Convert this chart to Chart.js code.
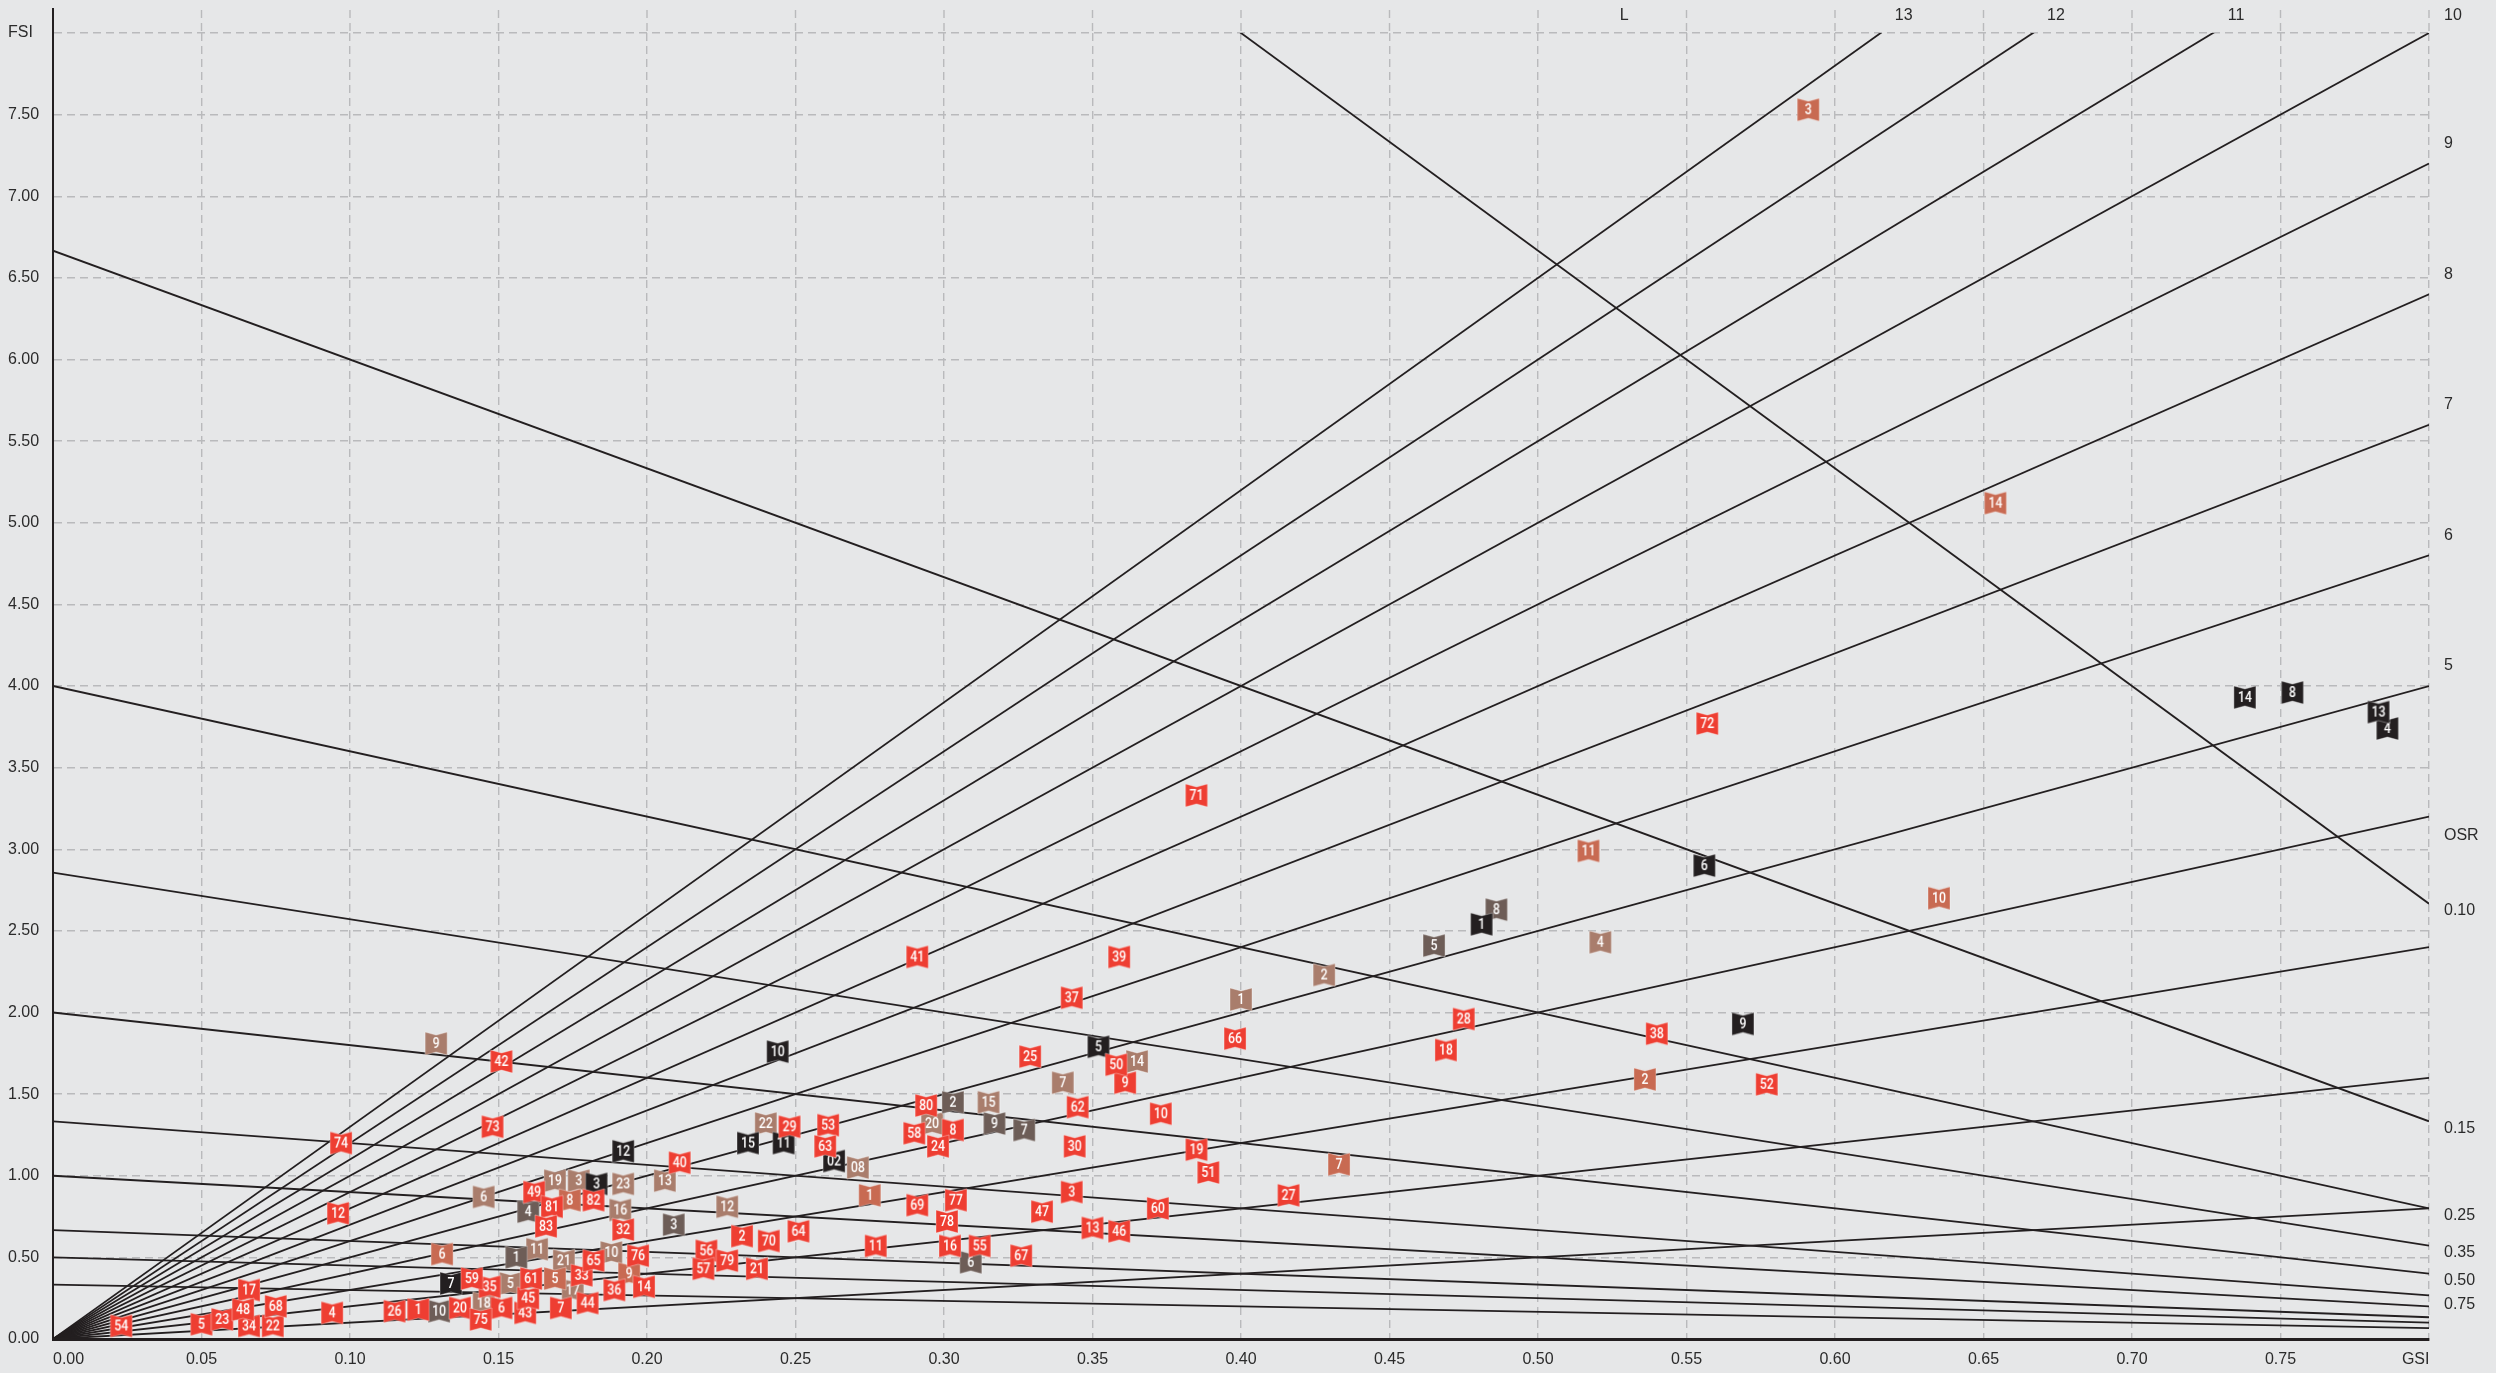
<!DOCTYPE html>
<html>
<head>
<meta charset="utf-8">
<title>Spacematrix GSI / FSI</title>
<script src="https://cdn.jsdelivr.net/npm/chart.js@4.4.1/dist/chart.umd.min.js"></script>
<style>
  html, body { margin: 0; padding: 0; background: #e6e7e8; }
  #wrap { width: 2496px; height: 1373px; position: relative; }
</style>
</head>
<body>
<div id="wrap"><canvas id="spacematrix"></canvas></div>
<script>
// axis ticks
const gsiTicks = [0, 0.05, 0.1, 0.15, 0.2, 0.25, 0.3, 0.35, 0.4, 0.45, 0.5, 0.55, 0.6, 0.65, 0.7, 0.75, 0.8];
const fsiTicks = [0, 0.5, 1, 1.5, 2, 2.5, 3, 3.5, 4, 4.5, 5, 5.5, 6, 6.5, 7, 7.5, 8];
const gsiMax = 0.8;
const fsiMax = 8;

// layers (L = FSI / GSI) rays from the origin
const layerValues = [1, 2, 3, 4, 5, 6, 7, 8, 9, 10, 11, 12, 13];
const layerLabelled = [5, 6, 7, 8, 9, 10, 11, 12, 13];

// open space ratio lines, OSR = (1 - GSI) / FSI
const osrValues = [0.075, 0.15, 0.25, 0.35, 0.5, 0.75, 1, 1.5, 2, 3];
const osrLabels = ['0.10', '0.15', '0.25', '0.35', '0.50', '0.75', '', '', '', ''];

// samples, red
const redIds = ['1', '2', '3', '4', '5', '6', '7', '8', '9', '10', '11', '12', '13', '14', '16', '17', '18', '19', '20',
  '21', '22', '23', '24', '25', '26', '27', '28', '29', '30', '32', '33', '34', '35', '36', '37', '38', '39', '40',
  '41', '42', '43', '44', '45', '46', '47', '48', '49', '50', '51', '52', '53', '54', '55', '56', '57', '58', '59',
  '60', '61', '62', '63', '64', '65', '66', '67', '68', '69', '70', '71', '72', '73', '74', '75', '76', '77', '78',
  '79', '80', '81', '82', '83'];
const redGsi = [0.123, 0.232, 0.343, 0.094, 0.050, 0.151, 0.171, 0.303, 0.361, 0.373, 0.277, 0.096, 0.350, 0.199, 0.302, 0.066, 0.469, 0.385, 0.137,
  0.237, 0.074, 0.057, 0.298, 0.329, 0.115, 0.416, 0.475, 0.248, 0.344, 0.192, 0.178, 0.066, 0.147, 0.189, 0.343, 0.540, 0.359, 0.211,
  0.291, 0.151, 0.159, 0.180, 0.160, 0.359, 0.333, 0.064, 0.162, 0.358, 0.389, 0.577, 0.261, 0.023, 0.312, 0.220, 0.219, 0.290, 0.141,
  0.372, 0.161, 0.345, 0.260, 0.251, 0.182, 0.398, 0.326, 0.075, 0.291, 0.241, 0.385, 0.557, 0.148, 0.097, 0.144, 0.197, 0.304, 0.301,
  0.227, 0.294, 0.168, 0.182, 0.166];
const redFsi = [0.18, 0.63, 0.90, 0.16, 0.09, 0.19, 0.19, 1.28, 1.57, 1.38, 0.57, 0.77, 0.68, 0.32, 0.57, 0.30, 1.77, 1.16, 0.19,
  0.43, 0.08, 0.12, 1.18, 1.73, 0.17, 0.88, 1.96, 1.30, 1.18, 0.67, 0.39, 0.08, 0.32, 0.30, 2.09, 1.87, 2.34, 1.08,
  2.34, 1.70, 0.16, 0.22, 0.25, 0.66, 0.78, 0.18, 0.90, 1.68, 1.02, 1.56, 1.31, 0.08, 0.57, 0.54, 0.43, 1.26, 0.37,
  0.80, 0.37, 1.42, 1.18, 0.66, 0.48, 1.84, 0.51, 0.20, 0.82, 0.60, 3.33, 3.77, 1.30, 1.20, 0.12, 0.51, 0.85, 0.72,
  0.48, 1.43, 0.81, 0.85, 0.69];

// samples, terracotta
const orangeIds = ['1', '2', '3', '5', '6', '7', '8', '9', '10', '11', '14'];
const orangeGsi = [0.275, 0.536, 0.591, 0.169, 0.131, 0.433, 0.174, 0.194, 0.635, 0.517, 0.654];
const orangeFsi = [0.88, 1.59, 7.53, 0.37, 0.52, 1.07, 0.85, 0.40, 2.70, 2.99, 5.12];

// samples, tan
const tanIds = ['1', '2', '3', '4', '5', '6', '7', '08', '9', '10', '11', '12', '13', '14', '15', '16', '17', '18', '19', '20', '21', '22', '23'];
const tanGsi = [0.400, 0.428, 0.177, 0.521, 0.154, 0.145, 0.340, 0.271, 0.129, 0.188, 0.163, 0.227, 0.206, 0.365, 0.315, 0.191, 0.175, 0.145, 0.169, 0.296, 0.172, 0.240, 0.192];
const tanFsi = [2.08, 2.23, 0.97, 2.43, 0.34, 0.87, 1.57, 1.05, 1.81, 0.53, 0.55, 0.81, 0.97, 1.70, 1.45, 0.79, 0.30, 0.22, 0.97, 1.32, 0.48, 1.32, 0.95];

// samples, grey brown
const darkIds = ['1', '2', '3', '4', '5', '6', '7', '8', '9', '10'];
const darkGsi = [0.156, 0.303, 0.209, 0.160, 0.465, 0.309, 0.327, 0.486, 0.317, 0.130];
const darkFsi = [0.50, 1.45, 0.70, 0.78, 2.41, 0.47, 1.28, 2.63, 1.32, 0.17];

// samples, black
const blackIds = ['1', '02', '3', '4', '5', '6', '7', '8', '9', '10', '11', '12', '13', '14', '15'];
const blackGsi = [0.481, 0.263, 0.183, 0.786, 0.352, 0.556, 0.134, 0.754, 0.569, 0.244, 0.246, 0.192, 0.783, 0.738, 0.234];
const blackFsi = [2.54, 1.09, 0.95, 3.74, 1.79, 2.90, 0.34, 3.96, 1.93, 1.76, 1.20, 1.15, 3.84, 3.93, 1.20];

const INK = '#231f20';
const TEXT = '#2b2b2b';

// little ribbon flag with the sample number on it
function makeFlag(text, color) {
  const w = 22, h = 23, notch = 3, pad = 1;
  const c = document.createElement('canvas');
  c.width = w + pad * 2;
  c.height = h + pad * 2;
  const g = c.getContext('2d');
  g.translate(pad, pad);
  g.beginPath();
  g.moveTo(0, 0);
  g.lineTo(w / 2, notch);
  g.lineTo(w, 0);
  g.lineTo(w, h);
  g.lineTo(w / 2, h - notch);
  g.lineTo(0, h);
  g.closePath();
  g.fillStyle = color;
  g.fill();
  g.lineWidth = 1;
  g.strokeStyle = 'rgba(255,255,255,0.35)';
  g.stroke();
  g.fillStyle = '#fff';
  g.font = '500 14px Roboto, "Liberation Sans", sans-serif';
  g.textAlign = 'center';
  g.textBaseline = 'middle';
  g.save();
  g.translate(w / 2, h / 2 + 1);
  g.scale(0.88, 1);
  g.fillText(text, 0, 0);
  g.restore();
  return c;
}

function sampleSet(ids, gsi, fsi, color, order) {
  const flags = ids.map(id => makeFlag(id, color));
  return {
    label: color,
    data: gsi.map((x, i) => ({ x: x, y: fsi[i] })),
    pointStyle: ctx => flags[ctx.dataIndex],
    pointRadius: 3,
    showLine: false,
    clip: false,
    order: order
  };
}

function lineSet(points) {
  return {
    data: points,
    showLine: true,
    pointRadius: 0,
    borderColor: INK,
    borderWidth: 1.8,
    order: 10
  };
}

const layerSets = layerValues.map(L => lineSet([{ x: 0, y: 0 }, { x: gsiMax, y: L * gsiMax }]));
const osrSets = osrValues.map(o => lineSet([{ x: 0, y: 1 / o }, { x: gsiMax, y: (1 - gsiMax) / o }]));

const frame = {
  id: 'frame',
  beforeDraw(chart) {
    const ctx = chart.ctx;
    ctx.save();
    ctx.fillStyle = '#e6e7e8';
    ctx.fillRect(0, 0, chart.width, chart.height);
    ctx.restore();
  },
  beforeDatasetsDraw(chart) {
    // grid and axis run a little above the 8.0 line
    const ctx = chart.ctx;
    const { left, top } = chart.chartArea;
    const x = chart.scales.x;
    ctx.save();
    ctx.strokeStyle = '#b9babc';
    ctx.lineWidth = 1.4;
    ctx.setLineDash([8, 5]);
    gsiTicks.slice(1).forEach(v => {
      const px = x.getPixelForValue(v);
      ctx.beginPath();
      ctx.moveTo(px, top - 23);
      ctx.lineTo(px, top);
      ctx.stroke();
    });
    ctx.setLineDash([]);
    ctx.strokeStyle = INK;
    ctx.lineWidth = 2;
    ctx.beginPath();
    ctx.moveTo(left, top - 25);
    ctx.lineTo(left, top);
    ctx.stroke();
    ctx.restore();
  },
  afterDraw(chart) {
    const ctx = chart.ctx;
    const { right } = chart.chartArea;
    const x = chart.scales.x, y = chart.scales.y;
    ctx.save();
    ctx.font = '16px "Liberation Sans", Arial, sans-serif';
    ctx.fillStyle = TEXT;
    ctx.textBaseline = 'middle';

    // L labels on the right edge, or on top where the ray leaves the chart
    layerLabelled.forEach(L => {
      const endY = L * gsiMax;
      if (endY <= fsiMax + 1e-9) {
        ctx.textAlign = 'left';
        ctx.fillText(String(L), right + 15, Math.max(16, y.getPixelForValue(endY) - 20));
      } else {
        ctx.textAlign = 'center';
        ctx.fillText(String(L), x.getPixelForValue(fsiMax / L) + 23, 16);
      }
    });
    ctx.textAlign = 'center';
    ctx.fillText('L', x.getPixelForValue(0.529), 16);

    // OSR labels, pushed apart where the lines bunch up
    ctx.textAlign = 'left';
    let prev = -Infinity, first = null;
    osrValues.forEach((o, i) => {
      if (!osrLabels[i]) return;
      let ly = y.getPixelForValue((1 - gsiMax) / o) + 7;
      ly = Math.max(ly, prev + 24);
      prev = ly;
      if (first === null) first = ly;
      ctx.fillText(osrLabels[i], right + 15, ly);
    });
    ctx.fillText('OSR', right + 15, first - 75);
    ctx.restore();
  }
};

Chart.defaults.font.family = '"Liberation Sans", Arial, sans-serif';
Chart.defaults.font.size = 16;
Chart.defaults.color = TEXT;

const myChart = new Chart(document.getElementById('spacematrix'), {
  type: 'scatter',
  data: {
    datasets: [
      sampleSet(redIds, redGsi, redFsi, '#ee3e32', 1),
      sampleSet(blackIds, blackGsi, blackFsi, INK, 2),
      sampleSet(darkIds, darkGsi, darkFsi, '#6d5d57', 3),
      sampleSet(orangeIds, orangeGsi, orangeFsi, '#c86a52', 4),
      sampleSet(tanIds, tanGsi, tanFsi, '#a97d6c', 5),
      ...layerSets,
      ...osrSets
    ]
  },
  options: {
    responsive: true,
    maintainAspectRatio: false,
    devicePixelRatio: 1,
    animation: false,
    events: [],
    layout: { padding: { left: 8, right: 67, top: 33, bottom: 0 } },
    plugins: { legend: { display: false }, tooltip: { enabled: false } },
    scales: {
      x: {
        type: 'linear',
        min: 0,
        max: gsiMax,
        afterBuildTicks: s => { s.ticks = gsiTicks.map(v => ({ value: v })); },
        afterFit: s => { s.height = 34; },
        grid: { color: '#b9babc', lineWidth: 1.4, drawTicks: false },
        border: { color: INK, width: 3, dash: [8, 5] },
        ticks: {
          autoSkip: false,
          maxRotation: 0,
          padding: 11,
          color: TEXT,
          callback: v => v === 0 ? '       0.00' : (v >= gsiMax ? 'GSI      ' : v.toFixed(2))
        }
      },
      y: {
        type: 'linear',
        min: 0,
        max: fsiMax,
        afterBuildTicks: s => { s.ticks = fsiTicks.map(v => ({ value: v })); },
        afterFit: s => { s.width = 45; },
        grid: { color: '#b9babc', lineWidth: 1.4, drawTicks: false },
        border: { color: INK, width: 2, dash: [8, 5] },
        ticks: {
          crossAlign: 'far',
          padding: 8,
          color: TEXT,
          callback: v => v >= fsiMax ? 'FSI' : v.toFixed(2)
        }
      }
    }
  },
  plugins: [frame]
});
</script>
</body>
</html>
